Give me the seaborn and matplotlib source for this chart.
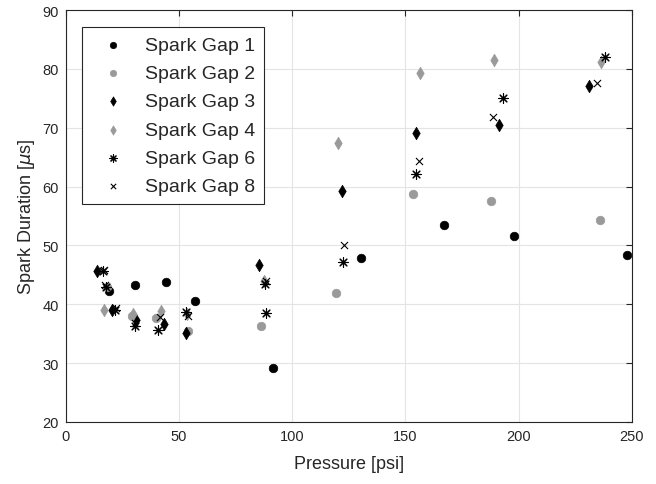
import numpy as np
import pandas as pd
import matplotlib
matplotlib.use("Agg")
import matplotlib.pyplot as plt
import seaborn as sns

# ── data ───────────────────────────────────────────────────────
gap1_p = [19.2, 30.7, 44.0, 57.2, 91.4, 130.5, 166.9, 197.8, 247.9]
gap1_t = [42.2, 43.2, 43.8, 40.6, 29.2, 47.8, 53.4, 51.6, 48.3]

gap2_p = [18.2, 29.1, 39.9, 53.8, 86.0, 119.1, 153.3, 187.8, 235.8]
gap2_t = [43.0, 38.0, 37.7, 35.4, 36.3, 42.0, 58.8, 57.6, 54.4]

gap3_p = [13.5, 20.4, 31.0, 43.2, 53.1, 85.5, 121.9, 154.6, 191.3, 231.3]
gap3_t = [45.7, 39.1, 37.4, 36.6, 35.1, 46.6, 59.3, 69.1, 70.5, 77.1]

gap4_p = [16.9, 29.5, 42.1, 53.4, 87.5, 120.3, 156.3, 189.0, 236.6]
gap4_t = [39.1, 38.3, 38.8, 38.3, 44.0, 67.5, 79.4, 81.5, 81.2]

gap6_p = [16.4, 17.5, 21.6, 30.3, 40.6, 53.0, 88.2, 87.9, 122.4, 154.6, 193.1, 238.4]
gap6_t = [45.7, 43.0, 39.1, 36.3, 35.7, 38.7, 38.6, 43.5, 47.2, 62.2, 75.0, 82.0]

gap8_p = [16.6, 17.2, 22.0, 30.5, 41.5, 54.0, 88.5, 122.8, 155.8, 188.7, 234.5]
gap8_t = [45.8, 43.3, 39.3, 36.8, 37.8, 38.0, 44.0, 50.1, 64.3, 71.9, 77.7]

labels = ["Spark Gap 1", "Spark Gap 2", "Spark Gap 3",
          "Spark Gap 4", "Spark Gap 6", "Spark Gap 8"]
x_ticks = [0, 50, 100, 150, 200, 250]
y_ticks = [20, 30, 40, 50, 60, 70, 80, 90]

# ── style ──────────────────────────────────────────────────────
sns.set_theme(style="whitegrid")
plt.rcParams["font.family"] = ["Liberation Sans", "DejaVu Sans"]
plt.rcParams["mathtext.fontset"] = "dejavusans"

BLACK = "#000000"
GRAY = "#9a9a9a"
AX = "#262626"

series = [
    (gap1_p, gap1_t, BLACK, "o", 38),
    (gap2_p, gap2_t, GRAY, "o", 38),
    (gap3_p, gap3_t, BLACK, "d", 40),
    (gap4_p, gap4_t, GRAY, "d", 40),
    (gap6_p, gap6_t, BLACK, (8, 2, 0), 48),
    (gap8_p, gap8_t, BLACK, "x", 26),
]

fig, ax = plt.subplots(figsize=(6.56, 4.85), dpi=100)
fig.subplots_adjust(left=0.1006, right=0.963, top=0.977, bottom=0.128)

for (p, t, col, mk, sz), lab in zip(series, labels):
    df = pd.DataFrame({"Pressure": p, "Duration": t})
    if mk in ("o", "d"):
        sns.scatterplot(data=df, x="Pressure", y="Duration", ax=ax,
                        color=col, marker=mk, s=sz, edgecolor=col,
                        linewidth=0.5, label=lab, zorder=3)
    else:
        sns.scatterplot(data=df, x="Pressure", y="Duration", ax=ax,
                        color=col, marker=mk, s=sz, linewidth=0.8,
                        label=lab, zorder=3)

ax.set_xlim(0, 250)
ax.set_ylim(20, 90)
ax.set_xticks(x_ticks)
ax.set_yticks(y_ticks)
ax.set_xlabel("Pressure [psi]", fontsize=13, color=AX, labelpad=9)
ax.set_ylabel(r"Spark Duration [$\mu$s]", fontsize=13, color=AX, labelpad=4)
ax.tick_params(axis="both", labelsize=10.5, colors=AX, direction="in",
               length=4, width=0.8, top=True, right=True)
ax.tick_params(axis="both", pad=5)
ax.grid(True, color="#e4e4e4", linewidth=0.8)
for sp in ax.spines.values():
    sp.set_visible(True)
    sp.set_color(AX)
    sp.set_linewidth(0.8)

leg = ax.legend(loc="upper left", bbox_to_anchor=(0.029, 0.958),
                fontsize=14, frameon=True, fancybox=False, framealpha=1,
                edgecolor=AX, borderpad=0.45, labelspacing=0.55,
                handletextpad=0.55, handlelength=2.2, markerscale=0.75,
                borderaxespad=0)
leg.get_frame().set_linewidth(0.8)

plt.savefig("out.png", dpi=100)
plt.close()
